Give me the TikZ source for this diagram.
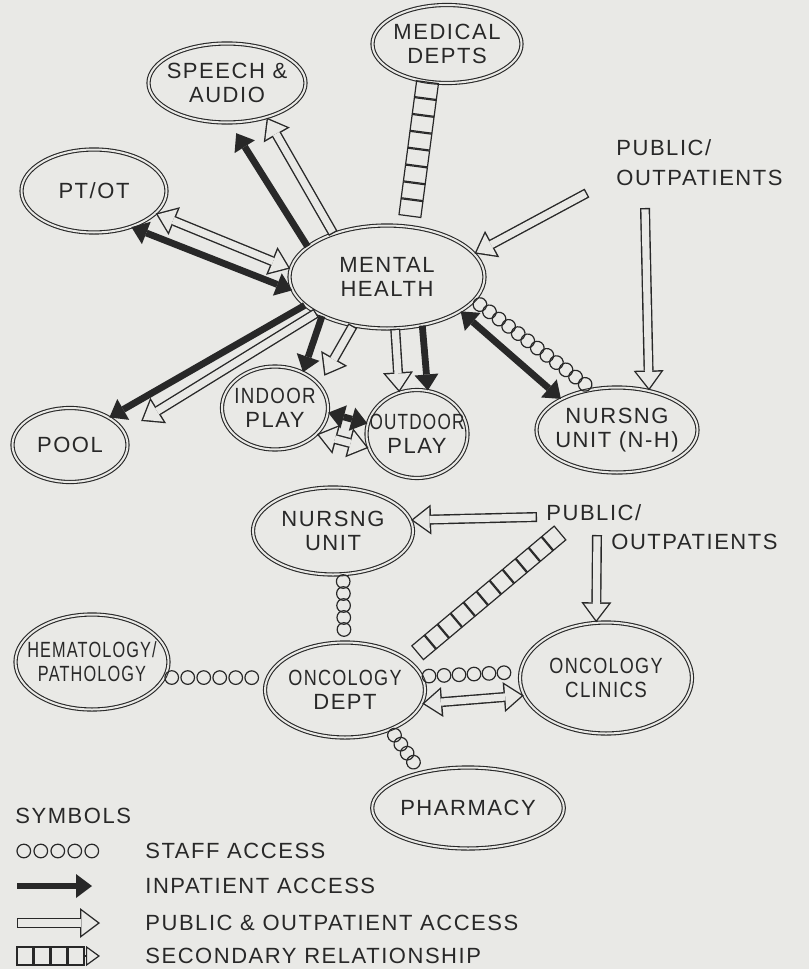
\documentclass[tikz,border=0pt]{standalone}
\usepackage{fontspec}
\usepackage{graphicx}
\usetikzlibrary{shapes.geometric,arrows.meta,decorations.markings}
\newfontfamily\hand[LetterSpace=7]{Liberation Sans}
\definecolor{paper}{RGB}{233,233,230}
\definecolor{ink}{RGB}{40,40,40}
\newcommand{\zw}[1]{\makebox[0pt]{#1}}
\newcommand{\zq}[2][0.8]{\makebox[0pt]{\scalebox{#1}[1]{#2}}}
\tikzset{
InHead/.tip={Triangle[length=8pt, width=12pt, line width=0pt]},
PubHead/.tip={Triangle[length=10pt, width=15pt, line width=0pt]},
PubHole/.tip={Triangle[length=8.1pt, width=12.2pt, sep=1.17pt, line width=0pt]}
}

\begin{document}
\begin{tikzpicture}[
x=0.5pt, y=-0.5pt,
txt/.style={font=\hand\fontsize{11pt}{13pt}\selectfont, text=ink, inner sep=0pt},
room/.style={ellipse, draw=ink, line width=0.55pt, double=paper, double distance=1pt, inner sep=0pt, align=center, font=\hand\fontsize{11pt}{12pt}\selectfont, text=ink},
inpatient/.style={draw=ink, line width=3.4pt, -InHead},
inboth/.style={inpatient, InHead-InHead},
public/.style={draw=ink, line width=5pt, -PubHead,
  postaction={draw=paper, line width=3.6pt, shorten <=0.7pt, -PubHole}},
pubboth/.style={draw=ink, line width=5pt, PubHead-PubHead,
  postaction={draw=paper, line width=3.6pt, PubHole-PubHole}},
staff/.style={decoration={markings, mark=between positions 3.4pt and -3pt step #1 with {\draw[ink, line width=0.6pt] (0,0) circle (3.4pt);}}, decorate},
staff/.default=6pt,
secondary/.style={decoration={markings, mark=between positions 4pt and -4pt step 8.5pt with {\draw[ink, line width=0.6pt] (-4pt,-#1) rectangle (4pt,#1);}}, decorate},
secondary/.default=4.5pt
]
\useasboundingbox (0,0) rectangle (809,969);
\fill[paper] (0,0) rectangle (809,969);

\node[room, minimum width=74.5pt, minimum height=39pt] (medical) at (447,44) {\zw{MEDICAL}\\\zw{DEPTS}};
\node[room, minimum width=78.5pt, minimum height=39.5pt] (speech) at (227,83) {\zw{SPEECH \&}\\\zw{AUDIO}};
\node[room, minimum width=72.5pt, minimum height=41.5pt] (ptot) at (94,191) {PT/OT};
\node[room, minimum width=97.5pt, minimum height=51.5pt] (mh) at (387,277) {\zw{MENTAL}\\\zw{HEALTH}};
\node[room, minimum width=57.5pt, minimum height=37pt] (pool) at (70,445) {POOL};
\node[room, minimum width=53pt, minimum height=41.5pt] (indoor) at (275,408) {\zq[0.85]{INDOOR}\\\zw{PLAY}};
\node[room, minimum width=50.5pt, minimum height=44pt] (outdoor) at (417,434) {\zq[0.78]{OUTDOOR}\\\zw{PLAY}};
\node[room, minimum width=80.5pt, minimum height=42.5pt] (nh) at (617,430) {\zw{NURSNG}\\\zw{UNIT (N-H)}};
\node[room, minimum width=80pt, minimum height=43.5pt] (nurse) at (333,531) {\zw{NURSNG}\\\zw{UNIT}};
\node[room, minimum width=76.5pt, minimum height=47.5pt] (hema) at (92,662) {\zq[0.74]{HEMATOLOGY/}\\\zq[0.74]{PATHOLOGY}};
\node[room, minimum width=80pt, minimum height=47.5pt] (onc) at (345,690) {\zq[0.82]{ONCOLOGY}\\\zw{DEPT}};
\node[room, minimum width=86pt, minimum height=55.5pt] (clinic) at (606,678) {\zq[0.82]{ONCOLOGY}\\\zq[0.85]{CLINICS}};
\node[room, minimum width=83.5pt, minimum height=40.5pt] (pharm) at (468,808) {PHARMACY};

\node[txt, align=left, anchor=west] (pubtop) at (616,163) {PUBLIC/\\[2pt]OUTPATIENTS};
\node[txt, anchor=west] (pubA) at (546,513) {PUBLIC/};
\node[txt, anchor=west] (pubB) at (611,542) {OUTPATIENTS};
\coordinate (pubtopA) at (587,193);
\coordinate (pubtopB) at (645,208);
\coordinate (publowA) at (537,517);
\coordinate (publowB) at (597,535);
\coordinate (publowC) at (560,533);

\draw[inpatient, shorten >=6pt] (mh.159) -- (speech.-86);
\draw[public] (mh.141) -- (speech.-41);
\draw[pubboth] (ptot.-20) -- (mh.175);
\draw[inboth] (ptot.-44) -- (mh.188);
\path[secondary=5.5pt] (medical.-117) -- (mh.67);
\draw[public] (pubtopA) -- (mh.15);
\draw[public] (pubtopB) -- (nh.51);
\draw[inpatient] (mh.199) -- (pool.35);
\draw[public, shorten >=10pt] (mh.207) -- (pool.14);
\draw[inpatient] (mh.211) -- (indoor.52);
\draw[public, shorten >=5pt] (mh.235) -- (indoor.28);
\draw[public] (mh.-81) -- (outdoor.113);
\draw[inpatient] (mh.-54) -- (outdoor.76);
\draw[inboth] (indoor.-5) -- (outdoor.168);
\draw[pubboth] (indoor.-32) -- (outdoor.196);
\draw[inboth] (mh.-25) -- (nh.151);
\path[staff] (mh.-15) -- (nh.122);

\draw[public] (publowA) -- (nurse.8);
\draw[public] (publowB) -- (clinic.100);
\path[secondary] (publowC) -- (onc.25);
\path[staff] (nurse.-77) -- (onc.91);
\path[staff=8pt] (hema.-12) -- (onc.171);
\path[staff=7.5pt] (onc.10) -- (clinic.176);
\draw[pubboth] (onc.-10) -- (clinic.192);
\path[staff=5.5pt] (onc.-41) -- (pharm.143);

\node[txt, anchor=west] (symbols) at (15,816) {SYMBOLS};
\coordinate (ls1) at (17,851);
\coordinate (ls2) at (105,851);
\coordinate (li1) at (17,886);
\coordinate (li2) at (92,886);
\coordinate (lp1) at (17,923);
\coordinate (lp2) at (100,923);
\coordinate (lr1) at (17,956);
\coordinate (lr2) at (84,956);
\coordinate (lr3) at (100,956);
\path[staff=8.5pt] (ls1) -- (ls2);
\draw[inpatient] (li1) -- (li2);
\draw[public] (lp1) -- (lp2);
\path[secondary] (lr1) -- (lr2);
\draw[ink, line width=0.6pt, -{Triangle[open, length=7pt, width=10pt]}] (lr2) -- (lr3);
\node[txt, anchor=west] (lstaff) at (145,851) {STAFF ACCESS};
\node[txt, anchor=west] (linpat) at (145,886) {INPATIENT ACCESS};
\node[txt, anchor=west] (lpublic) at (145,923) {PUBLIC \& OUTPATIENT ACCESS};
\node[txt, anchor=west] (lsecond) at (145,956) {SECONDARY RELATIONSHIP};
\end{tikzpicture}
\end{document}
